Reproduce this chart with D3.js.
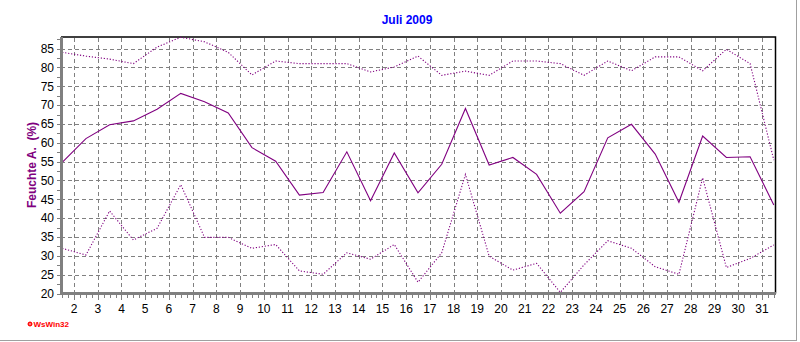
<!DOCTYPE html>
<html>
<head>
<meta charset="utf-8">
<script src="https://cdn.jsdelivr.net/npm/d3@7"></script>
<style>
  body { margin: 0; background: #fff; }
  svg { display: block; }
  text { font-family: "Liberation Sans", Arial, sans-serif; }
</style>
</head>
<body>
<div id="chart"></div>
<script>
// days of July 2009
var days = [1, 2, 3, 4, 5, 6, 7, 8, 9, 10, 11, 12, 13, 14, 15, 16, 17, 18, 19, 20,
  21, 22, 23, 24, 25, 26, 27, 28, 29, 30, 31];

// daily maximum humidity (%)
var maxValues = [84, 83, 82.2, 81, 85.4, 88, 86.8, 84, 78, 81.7, 81, 81, 81, 78.8, 80.1, 83,
  77.9, 79, 77.9, 81.7, 81.7, 81, 77.9, 81.7, 79.1, 82.8, 82.8, 79.1, 84.8, 81, 55.4];

// daily mean humidity (%)
var meanValues = [54.8, 61.1, 64.8, 65.8, 68.9, 73.1, 70.9, 67.9, 58.7, 55.1, 46.1, 46.8, 57.6,
  44.6, 57.3, 46.7, 54.3, 69.1, 54.1, 56.1, 51.6, 41.3, 47.0, 61.3, 64.9, 57.0, 44.2, 61.8,
  56.1, 56.3, 43.5];

// daily minimum humidity (%)
var minValues = [32.0, 30.2, 41.9, 34.2, 37.3, 48.9, 34.9, 34.9, 32.0, 33.0, 26.0, 25.1, 30.8,
  29.1, 33.0, 23.0, 30.8, 51.6, 29.9, 26.2, 28.0, 20.3, 27.6, 34.0, 32.0, 27.1, 25.1, 50.7,
  26.9, 29.3, 32.9];

// y tick labels
var yTicks = [20, 25, 30, 35, 40, 45, 50, 55, 60, 65, 70, 75, 80, 85];
// x tick labels (day gridlines)
var xTicks = [2, 3, 4, 5, 6, 7, 8, 9, 10, 11, 12, 13, 14, 15, 16, 17, 18, 19, 20, 21,
  22, 23, 24, 25, 26, 27, 28, 29, 30, 31];

var title = 'Juli 2009';
var yLabel = 'Feuchte A.  (%)';

var W = 800, H = 342;
var margin = { top: 36.5, right: 25, bottom: 48.5, left: 61 };
var lineColor = '#800080';

var svg = d3.select('#chart').append('svg')
  .attr('width', W)
  .attr('height', H);

// outer frame (right and bottom edge)
svg.append('line').attr('x1', W - 3.5).attr('x2', W - 3.5).attr('y1', 0).attr('y2', H - 1)
  .attr('stroke', '#a0a0a0').attr('stroke-width', 1);
svg.append('line').attr('x1', 0).attr('x2', W - 3).attr('y1', H - 1.5).attr('y2', H - 1.5)
  .attr('stroke', '#a0a0a0').attr('stroke-width', 1);

var x = d3.scaleLinear().domain([1.45, 31.55]).range([margin.left, W - margin.right]);
var y = d3.scaleLinear().domain([20, 88.2]).range([H - margin.bottom, margin.top]);

var x0 = x.range()[0], x1 = x.range()[1];
var y0 = y.range()[0], y1 = y.range()[1];

//dashed grid
var grid = svg.append('g').attr('stroke', '#808080').attr('stroke-dasharray', '4,3')
  .attr('stroke-width', 1).attr('shape-rendering', 'crispEdges');

grid.selectAll('line.h').data(yTicks.filter(function (d) { return d > 20; }))
  .enter().append('line')
  .attr('x1', x0).attr('x2', x1)
  .attr('y1', function (d) { return Math.round(y(d)) + 0.5; })
  .attr('y2', function (d) { return Math.round(y(d)) + 0.5; });

grid.selectAll('line.v').data(xTicks)
  .enter().append('line')
  .attr('y1', y0).attr('y2', y1)
  .attr('x1', function (d) { return Math.round(x(d)) + 0.5; })
  .attr('x2', function (d) { return Math.round(x(d)) + 0.5; });

// top and right frame
svg.append('path')
  .attr('d', 'M' + x0 + ',' + (y1 + 0.5) + 'H' + (x1 + 0.5) + 'V' + y0)
  .attr('fill', 'none').attr('stroke', '#000').attr('stroke-width', 1.5);

// series
var line = d3.line()
  .x(function (d, i) { return x(days[i] + 0.5); })
  .y(function (d) { return y(d); });

svg.append('path').datum(maxValues)
  .attr('d', line).attr('fill', 'none')
  .attr('stroke', lineColor).attr('stroke-width', 1.1).attr('stroke-dasharray', '1.2,1.8');

svg.append('path').datum(minValues)
  .attr('d', line).attr('fill', 'none')
  .attr('stroke', lineColor).attr('stroke-width', 1.1).attr('stroke-dasharray', '1.2,1.8');

svg.append('path').datum(meanValues)
  .attr('d', line).attr('fill', 'none')
  .attr('stroke', lineColor).attr('stroke-width', 1.1);

// y axis: gray bar with minor ticks
var yAxisG = svg.append('g').attr('shape-rendering', 'crispEdges');
var yMinor = d3.range(20, 88.2, 2.5);
yAxisG.selectAll('line.tick').data(yMinor).enter().append('line')
  .attr('x1', x0 - 4).attr('x2', x0)
  .attr('y1', function (d) { return Math.round(y(d)) + 0.5; })
  .attr('y2', function (d) { return Math.round(y(d)) + 0.5; })
  .attr('stroke', '#808080');
yAxisG.append('line')
  .attr('x1', x0).attr('x2', x0).attr('y1', y1).attr('y2', y0 + 1.5)
  .attr('stroke', '#808080').attr('stroke-width', 3);

yAxisG.selectAll('text').data(yTicks).enter().append('text')
  .attr('x', x0 - 7)
  .attr('y', function (d) { return y(d); })
  .attr('dy', '0.36em')
  .attr('text-anchor', 'end')
  .attr('font-size', '12px')
  .attr('fill', '#000')
  .text(function (d) { return d; });

// x axis: gray bar, ticks every 6 hours
var xAxisG = svg.append('g').attr('shape-rendering', 'crispEdges');
var xMinor = d3.range(1.5, 31.6, 0.25);
xAxisG.selectAll('line.tick').data(xMinor).enter().append('line')
  .attr('x1', function (d) { return Math.round(x(d)) + 0.5; })
  .attr('x2', function (d) { return Math.round(x(d)) + 0.5; })
  .attr('y1', y0)
  .attr('y2', function (d) { return y0 + (Math.abs(d - Math.round(d)) < 0.01 ? 6 : 4); })
  .attr('stroke', '#808080');
xAxisG.append('line')
  .attr('x1', x0 - 1.5).attr('x2', x1 + 1).attr('y1', y0).attr('y2', y0)
  .attr('stroke', '#808080').attr('stroke-width', 3);

xAxisG.selectAll('text').data(xTicks).enter().append('text')
  .attr('x', function (d) { return x(d); })
  .attr('y', y0 + 19)
  .attr('text-anchor', 'middle')
  .attr('font-size', '12px')
  .attr('fill', '#000')
  .text(function (d) { return d; });

// title
svg.append('text')
  .attr('x', 407).attr('y', 24)
  .attr('text-anchor', 'middle')
  .attr('font-size', '12px')
  .attr('font-weight', 'bold')
  .style('font-family', '"Liberation Sans Narrow", "Arial Narrow", "Liberation Sans", sans-serif')
  .attr('fill', '#0000ff')
  .text(title);

// y label
svg.append('text')
  .attr('transform', 'translate(36,' + 165 + ') rotate(-90)')
  .attr('text-anchor', 'middle')
  .attr('font-size', '12px')
  .attr('font-weight', 'bold')
  .style('white-space', 'pre')
  .attr('fill', lineColor)
  .text(yLabel);

// program logo
svg.append('circle').attr('cx', 30).attr('cy', 324).attr('r', 2)
  .attr('fill', '#ff0000').attr('stroke', '#ff0000').attr('stroke-width', 1);
svg.append('circle').attr('cx', 30).attr('cy', 324).attr('r', 0.8)
  .attr('fill', '#fff');
svg.append('text')
  .attr('x', 33.5).attr('y', 327)
  .attr('font-size', '8px')
  .attr('font-weight', 'bold')
  .attr('fill', '#ff0000')
  .text('WsWin32');
</script>
</body>
</html>
